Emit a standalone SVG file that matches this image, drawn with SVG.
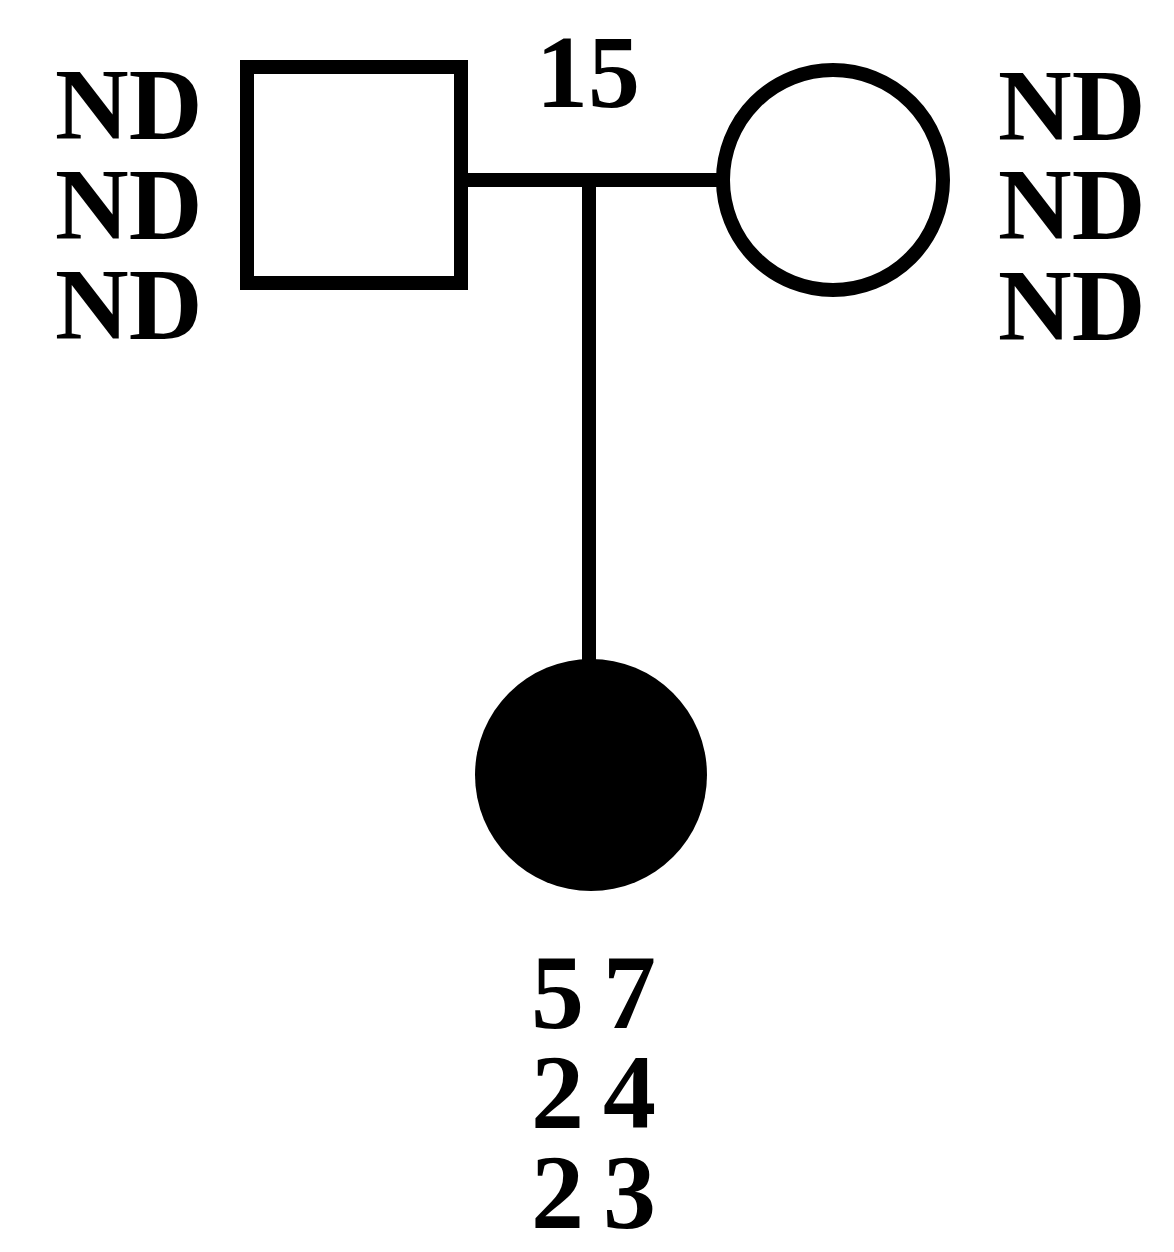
<svg xmlns="http://www.w3.org/2000/svg" width="1174" height="1252" viewBox="0 0 1174 1252">
<style>
.lbl{font-family:"Liberation Serif","Times New Roman",serif;font-weight:bold;fill:#000}
.nd{font-size:102px}
.num{font-size:106px;letter-spacing:19px}
.shape{fill:none;stroke:#000;stroke-width:14}
.line{stroke:#000;stroke-width:14;fill:none}
</style>
<rect width="1174" height="1252" fill="#fff"/>
<g id="connectors">
<line class="line" x1="461" y1="180" x2="725" y2="180"/>
<line class="line" x1="589" y1="180" x2="589" y2="670"/>
</g>
<g id="father">
<rect class="shape" x="247" y="67" width="214" height="216"/>
<text class="lbl nd" x="55" y="139">ND</text>
<text class="lbl nd" x="55" y="239">ND</text>
<text class="lbl nd" x="55" y="339">ND</text>
</g>
<g id="mother">
<circle class="shape" cx="833" cy="180" r="110"/>
<text class="lbl nd" x="998" y="140">ND</text>
<text class="lbl nd" x="998" y="239">ND</text>
<text class="lbl nd" x="998" y="340">ND</text>
</g>
<g id="family-label">
<text class="lbl" x="588" y="107" font-size="104" text-anchor="middle">15</text>
</g>
<g id="proband">
<circle cx="591" cy="775" r="116" fill="#000"/>
<text class="lbl num" x="531" y="1028">57</text>
<text class="lbl num" x="531" y="1128">24</text>
<text class="lbl num" x="531" y="1228">23</text>
</g>
</svg>
